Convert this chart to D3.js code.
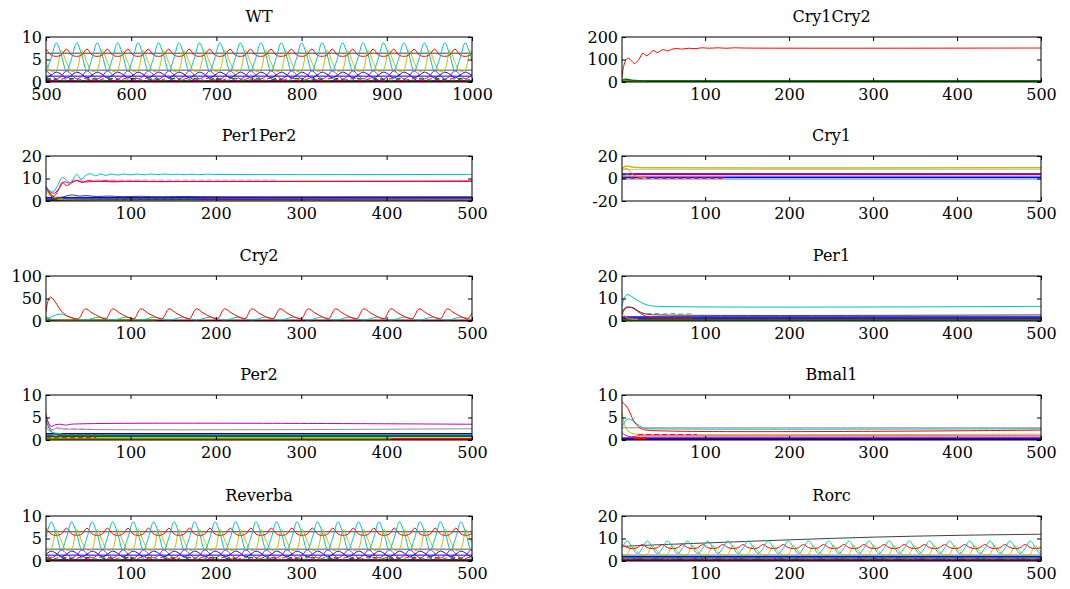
<!DOCTYPE html>
<html>
<head>
<meta charset="utf-8">
<title>Clock gene knockouts</title>
<script src="https://cdn.jsdelivr.net/npm/d3@7"></script>
<style>
body { margin: 0; background: #fff; }
svg text { font-family: "DejaVu Serif", serif; font-size: 16px; fill: #000; }
</style>
</head>
<body>
<svg id="chart" width="1070" height="589"></svg>
<script>
// titles and ticks
const titles = ["WT", "Cry1Cry2", "Per1Per2", "Cry1", "Cry2", "Per1", "Per2", "Bmal1", "Reverba", "Rorc"];
const xTicksWT = [500, 600, 700, 800, 900, 1000];
const xTicks = [100, 200, 300, 400, 500];
const yTicks0_10 = [0, 5, 10];
const yTicks0_20 = [0, 10, 20];
const yTicksC1C2 = [0, 100, 200];
const yTicksCry1 = [-20, 0, 20];
const yTicksCry2 = [0, 50, 100];

// sampled time grids (every 6 time units)
const wtTime = d3.range(500, 1005, 6);
const koTime = d3.range(1, 506, 6);

// WT steady oscillation, sampled on wtTime
const wtCyan = [2.4,5.2,8.7,6.0,2.4,5.2,8.7,6.0,2.4,5.2,8.7,6.0,2.4,5.2,8.7,6.0,2.4,5.2,8.7,6.0,2.4,5.2,8.7,6.0,2.4,5.2,8.7,6.0,
  2.4,5.2,8.7,6.0,2.4,5.2,8.7,6.0,2.4,5.2,8.7,6.0,2.4,5.2,8.7,6.0,2.4,5.2,8.7,6.0,2.4,5.2,8.7,6.0,2.4,5.2,8.7,6.0,
  2.4,5.2,8.7,6.0,2.4,5.2,8.7,6.0,2.4,5.2,8.7,6.0,2.4,5.2,8.7,6.0,2.4,5.2,8.7,6.0,2.4,5.2,8.7,6.0,2.4,5.2,8.7,6.0,2.4];
const wtYellow = [4.4,2.4,2.7,7.0,4.4,2.4,2.7,7.0,4.4,2.4,2.7,7.0,4.4,2.4,2.7,7.0,4.4,2.4,2.7,7.0,4.4,2.4,2.7,7.0,4.4,2.4,2.7,7.0,
  4.4,2.4,2.7,7.0,4.4,2.4,2.7,7.0,4.4,2.4,2.7,7.0,4.4,2.4,2.7,7.0,4.4,2.4,2.7,7.0,4.4,2.4,2.7,7.0,4.4,2.4,2.7,7.0,
  4.4,2.4,2.7,7.0,4.4,2.4,2.7,7.0,4.4,2.4,2.7,7.0,4.4,2.4,2.7,7.0,4.4,2.4,2.7,7.0,4.4,2.4,2.7,7.0,4.4,2.4,2.7,7.0,4.4];
const wtRed = [7.3,6.0,5.7,6.0,7.3,6.0,5.7,6.0,7.3,6.0,5.7,6.0,7.3,6.0,5.7,6.0,7.3,6.0,5.7,6.0,7.3,6.0,5.7,6.0,7.3,6.0,5.7,6.0,
  7.3,6.0,5.7,6.0,7.3,6.0,5.7,6.0,7.3,6.0,5.7,6.0,7.3,6.0,5.7,6.0,7.3,6.0,5.7,6.0,7.3,6.0,5.7,6.0,7.3,6.0,5.7,6.0,
  7.3,6.0,5.7,6.0,7.3,6.0,5.7,6.0,7.3,6.0,5.7,6.0,7.3,6.0,5.7,6.0,7.3,6.0,5.7,6.0,7.3,6.0,5.7,6.0,7.3,6.0,5.7,6.0,7.3];
const wtMagenta = [2.5,1.6,0.7,1.3,2.5,1.6,0.7,1.3,2.5,1.6,0.7,1.3,2.5,1.6,0.7,1.3,2.5,1.6,0.7,1.3,2.5,1.6,0.7,1.3,2.5,1.6,0.7,1.3,
  2.5,1.6,0.7,1.3,2.5,1.6,0.7,1.3,2.5,1.6,0.7,1.3,2.5,1.6,0.7,1.3,2.5,1.6,0.7,1.3,2.5,1.6,0.7,1.3,2.5,1.6,0.7,1.3,
  2.5,1.6,0.7,1.3,2.5,1.6,0.7,1.3,2.5,1.6,0.7,1.3,2.5,1.6,0.7,1.3,2.5,1.6,0.7,1.3,2.5,1.6,0.7,1.3,2.5,1.6,0.7,1.3,2.5];
const wtBlue = [0.9,1.5,2.2,1.7,0.9,1.5,2.2,1.7,0.9,1.5,2.2,1.7,0.9,1.5,2.2,1.7,0.9,1.5,2.2,1.7,0.9,1.5,2.2,1.7,0.9,1.5,2.2,1.7,
  0.9,1.5,2.2,1.7,0.9,1.5,2.2,1.7,0.9,1.5,2.2,1.7,0.9,1.5,2.2,1.7,0.9,1.5,2.2,1.7,0.9,1.5,2.2,1.7,0.9,1.5,2.2,1.7,
  0.9,1.5,2.2,1.7,0.9,1.5,2.2,1.7,0.9,1.5,2.2,1.7,0.9,1.5,2.2,1.7,0.9,1.5,2.2,1.7,0.9,1.5,2.2,1.7,0.9,1.5,2.2,1.7,0.9];
const wtGreenDash = [0.4,0.8,0.5,0.3,0.4,0.8,0.5,0.3,0.4,0.8,0.5,0.3,0.4,0.8,0.5,0.3,0.4,0.8,0.5,0.3,0.4,0.8,0.5,0.3,0.4,0.8,0.5,0.3,
  0.4,0.8,0.5,0.3,0.4,0.8,0.5,0.3,0.4,0.8,0.5,0.3,0.4,0.8,0.5,0.3,0.4,0.8,0.5,0.3,0.4,0.8,0.5,0.3,0.4,0.8,0.5,0.3,
  0.4,0.8,0.5,0.3,0.4,0.8,0.5,0.3,0.4,0.8,0.5,0.3,0.4,0.8,0.5,0.3,0.4,0.8,0.5,0.3,0.4,0.8,0.5,0.3,0.4,0.8,0.5,0.3,0.4];
const wtRedDash = [0.9,0.5,0.2,0.6,0.9,0.5,0.2,0.6,0.9,0.5,0.2,0.6,0.9,0.5,0.2,0.6,0.9,0.5,0.2,0.6,0.9,0.5,0.2,0.6,0.9,0.5,0.2,0.6,
  0.9,0.5,0.2,0.6,0.9,0.5,0.2,0.6,0.9,0.5,0.2,0.6,0.9,0.5,0.2,0.6,0.9,0.5,0.2,0.6,0.9,0.5,0.2,0.6,0.9,0.5,0.2,0.6,
  0.9,0.5,0.2,0.6,0.9,0.5,0.2,0.6,0.9,0.5,0.2,0.6,0.9,0.5,0.2,0.6,0.9,0.5,0.2,0.6,0.9,0.5,0.2,0.6,0.9,0.5,0.2,0.6,0.9];
const wtLevels = [6.4, 2.6, 1.3, 0.3, 0.1];

// Reverba knockout, sampled on koTime
const revCyan = [5.2,8.7,6.0,2.4,5.2,8.7,6.0,2.4,5.2,8.7,6.0,2.4,5.2,8.7,6.0,2.4,5.2,8.7,6.0,2.4,5.2,8.7,6.0,2.4,5.2,8.7,6.0,2.4,
  5.2,8.7,6.0,2.4,5.2,8.7,6.0,2.4,5.2,8.7,6.0,2.4,5.2,8.7,6.0,2.4,5.2,8.7,6.0,2.4,5.2,8.7,6.0,2.4,5.2,8.7,6.0,2.4,
  5.2,8.7,6.0,2.4,5.2,8.7,6.0,2.4,5.2,8.7,6.0,2.4,5.2,8.7,6.0,2.4,5.2,8.7,6.0,2.4,5.2,8.7,6.0,2.4,5.2,8.7,6.0,2.4,5.2];
const revYellow = [2.4,2.7,7.0,4.4,2.4,2.7,7.0,4.4,2.4,2.7,7.0,4.4,2.4,2.7,7.0,4.4,2.4,2.7,7.0,4.4,2.4,2.7,7.0,4.4,2.4,2.7,7.0,4.4,
  2.4,2.7,7.0,4.4,2.4,2.7,7.0,4.4,2.4,2.7,7.0,4.4,2.4,2.7,7.0,4.4,2.4,2.7,7.0,4.4,2.4,2.7,7.0,4.4,2.4,2.7,7.0,4.4,
  2.4,2.7,7.0,4.4,2.4,2.7,7.0,4.4,2.4,2.7,7.0,4.4,2.4,2.7,7.0,4.4,2.4,2.7,7.0,4.4,2.4,2.7,7.0,4.4,2.4,2.7,7.0,4.4,2.4];
const revRed = [7.3,6.0,5.7,6.0,7.3,6.0,5.7,6.0,7.3,6.0,5.7,6.0,7.3,6.0,5.7,6.0,7.3,6.0,5.7,6.0,7.3,6.0,5.7,6.0,7.3,6.0,5.7,6.0,
  7.3,6.0,5.7,6.0,7.3,6.0,5.7,6.0,7.3,6.0,5.7,6.0,7.3,6.0,5.7,6.0,7.3,6.0,5.7,6.0,7.3,6.0,5.7,6.0,7.3,6.0,5.7,6.0,
  7.3,6.0,5.7,6.0,7.3,6.0,5.7,6.0,7.3,6.0,5.7,6.0,7.3,6.0,5.7,6.0,7.3,6.0,5.7,6.0,7.3,6.0,5.7,6.0,7.3,6.0,5.7,6.0,7.3];
const revMagenta = [1.6,0.7,1.3,2.5,1.6,0.7,1.3,2.5,1.6,0.7,1.3,2.5,1.6,0.7,1.3,2.5,1.6,0.7,1.3,2.5,1.6,0.7,1.3,2.5,1.6,0.7,1.3,2.5,
  1.6,0.7,1.3,2.5,1.6,0.7,1.3,2.5,1.6,0.7,1.3,2.5,1.6,0.7,1.3,2.5,1.6,0.7,1.3,2.5,1.6,0.7,1.3,2.5,1.6,0.7,1.3,2.5,
  1.6,0.7,1.3,2.5,1.6,0.7,1.3,2.5,1.6,0.7,1.3,2.5,1.6,0.7,1.3,2.5,1.6,0.7,1.3,2.5,1.6,0.7,1.3,2.5,1.6,0.7,1.3,2.5,1.6];
const revBlue = [1.5,2.2,1.7,0.9,1.5,2.2,1.7,0.9,1.5,2.2,1.7,0.9,1.5,2.2,1.7,0.9,1.5,2.2,1.7,0.9,1.5,2.2,1.7,0.9,1.5,2.2,1.7,0.9,
  1.5,2.2,1.7,0.9,1.5,2.2,1.7,0.9,1.5,2.2,1.7,0.9,1.5,2.2,1.7,0.9,1.5,2.2,1.7,0.9,1.5,2.2,1.7,0.9,1.5,2.2,1.7,0.9,
  1.5,2.2,1.7,0.9,1.5,2.2,1.7,0.9,1.5,2.2,1.7,0.9,1.5,2.2,1.7,0.9,1.5,2.2,1.7,0.9,1.5,2.2,1.7,0.9,1.5,2.2,1.7,0.9,1.5];
const revGreenDash = [0.8,0.5,0.3,0.4,0.8,0.5,0.3,0.4,0.8,0.5,0.3,0.4,0.8,0.5,0.3,0.4,0.8,0.5,0.3,0.4,0.8,0.5,0.3,0.4,0.8,0.5,0.3,0.4,
  0.8,0.5,0.3,0.4,0.8,0.5,0.3,0.4,0.8,0.5,0.3,0.4,0.8,0.5,0.3,0.4,0.8,0.5,0.3,0.4,0.8,0.5,0.3,0.4,0.8,0.5,0.3,0.4,
  0.8,0.5,0.3,0.4,0.8,0.5,0.3,0.4,0.8,0.5,0.3,0.4,0.8,0.5,0.3,0.4,0.8,0.5,0.3,0.4,0.8,0.5,0.3,0.4,0.8,0.5,0.3,0.4,0.8];
const revRedDash = [0.5,0.2,0.6,0.9,0.5,0.2,0.6,0.9,0.5,0.2,0.6,0.9,0.5,0.2,0.6,0.9,0.5,0.2,0.6,0.9,0.5,0.2,0.6,0.9,0.5,0.2,0.6,0.9,
  0.5,0.2,0.6,0.9,0.5,0.2,0.6,0.9,0.5,0.2,0.6,0.9,0.5,0.2,0.6,0.9,0.5,0.2,0.6,0.9,0.5,0.2,0.6,0.9,0.5,0.2,0.6,0.9,
  0.5,0.2,0.6,0.9,0.5,0.2,0.6,0.9,0.5,0.2,0.6,0.9,0.5,0.2,0.6,0.9,0.5,0.2,0.6,0.9,0.5,0.2,0.6,0.9,0.5,0.2,0.6,0.9,0.5];
const revLevels = [6.5, 2.6, 1.3, 0.3, 0.1];

// Rorc knockout, sampled on koTime
const rorcCyan = [5.6,8.9,6.2,3.3,5.6,8.9,6.2,3.3,5.6,8.9,6.2,3.3,5.6,8.9,6.2,3.3,5.6,8.9,6.2,3.3,5.6,8.9,6.2,3.3,5.6,8.9,6.2,3.3,
  5.6,8.9,6.2,3.3,5.6,8.9,6.2,3.3,5.6,8.9,6.2,3.3,5.6,8.9,6.2,3.3,5.6,8.9,6.2,3.3,5.6,8.9,6.2,3.3,5.6,8.9,6.2,3.3,
  5.6,8.9,6.2,3.3,5.6,8.9,6.2,3.3,5.6,8.9,6.2,3.3,5.6,8.9,6.2,3.3,5.6,8.9,6.2,3.3,5.6,8.9,6.2,3.3,5.6,8.9,6.2,3.3,5.6];
const rorcYellow = [2.6,3.0,6.8,4.3,2.6,3.0,6.8,4.3,2.6,3.0,6.8,4.3,2.6,3.0,6.8,4.3,2.6,3.0,6.8,4.3,2.6,3.0,6.8,4.3,2.6,3.0,6.8,4.3,
  2.6,3.0,6.8,4.3,2.6,3.0,6.8,4.3,2.6,3.0,6.8,4.3,2.6,3.0,6.8,4.3,2.6,3.0,6.8,4.3,2.6,3.0,6.8,4.3,2.6,3.0,6.8,4.3,
  2.6,3.0,6.8,4.3,2.6,3.0,6.8,4.3,2.6,3.0,6.8,4.3,2.6,3.0,6.8,4.3,2.6,3.0,6.8,4.3,2.6,3.0,6.8,4.3,2.6,3.0,6.8,4.3,2.6];
const rorcRed = [7.3,6.0,5.5,5.9,7.3,6.0,5.5,5.9,7.3,6.0,5.5,5.9,7.3,6.0,5.5,5.9,7.3,6.0,5.5,5.9,7.3,6.0,5.5,5.9,7.3,6.0,5.5,5.9,
  7.3,6.0,5.5,5.9,7.3,6.0,5.5,5.9,7.3,6.0,5.5,5.9,7.3,6.0,5.5,5.9,7.3,6.0,5.5,5.9,7.3,6.0,5.5,5.9,7.3,6.0,5.5,5.9,
  7.3,6.0,5.5,5.9,7.3,6.0,5.5,5.9,7.3,6.0,5.5,5.9,7.3,6.0,5.5,5.9,7.3,6.0,5.5,5.9,7.3,6.0,5.5,5.9,7.3,6.0,5.5,5.9,7.3];
const rorcMagentaDash = [1.0,0.5,0.8,1.4,1.0,0.5,0.8,1.4,1.0,0.5,0.8,1.4,1.0,0.5,0.8,1.4,1.0,0.5,0.8,1.4,1.0,0.5,0.8,1.4,1.0,0.5,0.8,1.4,
  1.0,0.5,0.8,1.4,1.0,0.5,0.8,1.4,1.0,0.5,0.8,1.4,1.0,0.5,0.8,1.4,1.0,0.5,0.8,1.4,1.0,0.5,0.8,1.4,1.0,0.5,0.8,1.4,
  1.0,0.5,0.8,1.4,1.0,0.5,0.8,1.4,1.0,0.5,0.8,1.4,1.0,0.5,0.8,1.4,1.0,0.5,0.8,1.4,1.0,0.5,0.8,1.4,1.0,0.5,0.8,1.4,1.0];
const rorcBlack = [[1,6.5],[50,7.3],[100,8.0],[200,9.4],[300,10.6],[400,11.4],[500,11.9]];
const rorcLevels = [2.7, 2.0, 1.3, 0.6, 0.2];

// Cry1Cry2 knockout
const c1c2Red = [[1,20],[3,70],[6,100],[9,105],[12,95],[16,82],[21,100],[26,128],[30,117],[34,125],[38,140],[43,131],
  [50,144],[55,138],[60,145],[66,149],[72,146],[80,150],[88,148],[96,152],[105,150],[115,152],[125,150],[135,152],[145,151],[500,151]];
const c1c2Olive = [[1,12],[5,8],[10,4],[20,2],[30,1]];
const c1c2DarkGreen = [[1,10],[6,12],[12,8],[20,6],[30,5],[500,5]];
const c1c2Levels = [3, 1.5, 0.5];

// Per1Per2 knockout
const p12Cyan = [[1,5.4],[5,4.8],[9,4.0],[14,6.5],[20,10.4],[25,9.2],[30,8.3],[37,11.9],[42,9.6],[47,11.2],[53,12.1],[59,11.2],
  [65,12.0],[71,11.4],[78,12.0],[85,11.5],[92,12.0],[100,11.6],[108,12.0],[116,11.6],[124,12.0],[132,11.7],[140,12.0],
  [148,11.7],[156,11.9],[164,11.7],[172,11.9],[180,11.7],[190,11.9],[200,11.8],[500,11.8]];
const p12Red = [[1,5.4],[5,3.5],[10,2.1],[15,4.5],[20,8.3],[25,6.9],[31,8.0],[37,9.2],[43,8.3],[50,9.0],[60,8.7],[70,9.0],[80,8.8],[500,8.9]];
const p12Magenta = [[1,6.5],[6,4.0],[11,3.5],[17,6.0],[22,8.5],[28,8.0],[35,9.0],[45,8.4],[60,8.8],[80,8.5],[100,8.8],[130,8.6],[170,8.7],[500,8.7]];
const p12PinkDash = [[30,9.3],[270,9.3]];
const p12Black = [[1,6.5],[5,3.5],[10,1.2],[18,1.5],[25,2.3],[32,2.7],[40,2.2],[48,2.4],[60,2.0],[75,2.2],[90,1.9],[110,2.1],[130,1.9],[160,2.0],[200,1.9],[500,1.9]];
const p12Yellow = [[1,6.0],[5,4.0],[10,2.0],[15,0.8],[25,0.5],[500,0.5]];
const p12Orange = [[1,4.0],[6,2.5],[12,1.5],[20,1.0]];
const p12GreenDash = [[1,0.4],[180,0.4]];
const p12Levels = [1.6, 1.3, 0.6, 0.2];

// Cry1 knockout
const cry1Yellow = [[1,8.5],[4,10.5],[8,11.0],[13,10.2],[20,9.8],[30,9.5],[500,9.5]];
const cry1Orange = [[1,7.0],[4,8.5],[8,8.5],[11,6.0],[15,3.0],[20,1.5],[30,0.8]];
const cry1Cyan = [[1,3.0],[5,2.0],[7,4.0],[9,3.0],[12,1.0]];
const cry1RedDash = [[1,0.5],[125,0.5]];
const cry1Levels = [8.0, 4.2, 3.6, 1.1, -0.4];

// Cry2 knockout
const cry2Red = [[1,20],[3,42],[6,53],[10,47],[14,36],[19,22],[25,12],[31,7],[39,5],[47,27],[55,18],[63,10],
  [71,5],[79,27],[87,18],[95,10],[104,5],[112,27],[120,18],[128,10],[137,5],[145,27],[153,18],[161,10],
  [169,5],[177,27],[185,18],[193,10],[202,5],[210,27],[218,18],[226,10],[234,5],[242,27],[250,18],[258,10],
  [267,5],[275,27],[283,18],[291,10],[300,5],[308,27],[316,18],[324,10],[332,5],[340,27],[348,18],[356,10],
  [365,5],[373,27],[381,18],[389,10],[397,5],[405,27],[413,18],[421,10],[430,5],[438,27],[446,18],[454,10],
  [463,5],[471,27],[479,18],[487,10],[495,5],[500,18]];
const cry2Cyan = [[1,5],[6,8],[12,13],[18,15.5],[26,11],[34,6],[41,3],[47,2],[63,8.5],[79,2],[95,8.5],[112,2],[128,8.5],
  [145,2],[161,8.5],[177,2],[193,8.5],[210,2],[226,8.5],[242,2],[258,8.5],[275,2],[291,8.5],[308,2],[324,8.5],
  [340,2],[356,8.5],[373,2],[389,8.5],[405,2],[421,8.5],[438,2],[454,8.5],[471,2],[487,8.5],[500,3]];
const cry2Gray = [[1,8],[5,5],[10,3],[20,2],[30,1.5]];
const cry2DarkGreen = [[1,10],[4,4],[8,1],[15,0.5]];
const cry2Olive = [[1,1.5],[130,1.5]];
const cry2Levels = [1.0, 0.4];

// Per1 knockout
const per1Cyan = [[1,6.5],[4,10.5],[7,11.7],[12,11.0],[18,9.5],[25,8.0],[32,7.0],[40,6.6],[500,6.5]];
const per1Black = [[1,4.0],[5,6.0],[10,6.2],[15,5.8],[20,4.5],[26,3.5],[32,3.0],[45,2.7],[500,2.7]];
const per1GrayDash = [[30,3.2],[40,3.4],[50,3.1],[60,3.4],[70,3.1],[85,3.3]];
const per1Red = [[1,3.0],[5,5.5],[9,6.1],[14,5.7],[20,4.2],[26,2.8],[32,1.8],[40,1.4],[85,1.3]];
const per1Yellow = [[1,4.0],[5,2.0],[10,1.0],[20,0.8]];
const per1Magenta = [[1,1.5],[6,2.0],[12,1.2],[20,0.6]];
const per1Levels = [1.8, 1.2, 0.7, 0.4];

// Per2 knockout
const per2Magenta = [[1,5.5],[4,3.8],[7,3.0],[12,3.4],[18,3.5],[24,3.3],[30,3.5],[500,3.5]];
const per2Gray = [[1,6.0],[4,3.5],[8,2.2],[14,2.7],[20,2.5],[500,2.5]];
const per2PinkDash = [[1,4.0],[6,2.0],[12,2.6],[20,2.3],[30,2.5],[65,2.3]];
const per2Cyan = [[1,3.0],[5,2.0],[10,1.6],[20,1.4]];
const per2Black = [[1,4.5],[5,2.5],[10,1.5],[20,1.3]];
const per2YellowDash = [[1,1.5],[10,1.0],[20,1.3],[40,1.2],[70,1.2]];
const per2Olive = [[1,0.25],[405,0.25]];
const per2RedDash = [[1,0.5],[60,0.5]];
const per2Levels = [1.4, 1.0, 0.8, 0.2];

// Bmal1 knockout
const bmRed = [[1,8.4],[4,8.0],[8,7.0],[13,5.0],[18,3.4],[24,2.5],[30,2.2],[500,2.2]];
const bmCyan = [[1,2.8],[4,4.0],[8,4.7],[13,4.4],[20,3.4],[28,2.6],[35,2.5],[500,2.5]];
const bmYellow = [[1,6.2],[4,3.5],[8,2.0],[14,1.4],[20,1.3],[500,1.3]];
const bmRedDash = [[20,1.2],[90,1.2]];
const bmMagenta = [[1,1.6],[6,1.0],[12,0.7],[20,0.9],[30,0.9],[500,0.9]];
const bmRedThick = [[15,0.3],[30,0.3]];
const bmLevels = [2.7, 0.5, 0.3, 0.1];

// colours (old MATLAB order plus a few extras)
const col = {b: "#0000ff", g: "#008000", r: "#ff0000", c: "#00bfbf", m: "#bf00bf", y: "#bfbf00", k: "#404040",
  gr: "#8c8c8c", lg: "#c8c8c8", pk: "#ff80ff", dr: "#a00000", pu: "#7f007f", or: "#ff8c00", dg: "#006400", lb: "#6fa8ff", ol: "#8c8c00"};

const onGrid = (times, vals) => vals.map((v, i) => [times[i], v]).filter(p => p[0] !== undefined);
const flat = (dom, v) => [[dom[0], v], [dom[1], v]];
const D = "5,3";

const wtDom = [500, 1000], koDom = [1, 500];

const panels = [
  {title: titles[0], c: 0, r: 0, xDom: wtDom, xT: xTicksWT, yDom: [0, 10], yT: yTicks0_10, lines: [
    {d: flat(wtDom, wtLevels[4]), c: col.dr, w: 2}, {d: flat(wtDom, wtLevels[3]), c: col.pu, w: 1.5},
    {d: onGrid(wtTime, wtRedDash), c: col.r, dash: D}, {d: onGrid(wtTime, wtGreenDash), c: col.g, dash: D, w: 1.5},
    {d: flat(wtDom, wtLevels[2]), c: col.b}, {d: flat(wtDom, wtLevels[1]), c: col.gr, w: 1.5},
    {d: onGrid(wtTime, wtBlue), c: col.b}, {d: onGrid(wtTime, wtMagenta), c: col.m},
    {d: flat(wtDom, wtLevels[0]), c: col.k}, {d: onGrid(wtTime, wtYellow), c: col.y},
    {d: onGrid(wtTime, wtRed), c: col.r}, {d: onGrid(wtTime, wtCyan), c: col.c}]},
  {title: titles[1], c: 1, r: 0, xDom: koDom, xT: xTicks, yDom: [0, 200], yT: yTicksC1C2, lines: [
    {d: flat(koDom, c1c2Levels[2]), c: col.dr, w: 1.5}, {d: flat(koDom, c1c2Levels[1]), c: col.b},
    {d: flat(koDom, c1c2Levels[0]), c: col.g, w: 2}, {d: c1c2DarkGreen, c: col.dg, w: 1.5},
    {d: c1c2Olive, c: col.ol}, {d: c1c2Red, c: col.r}]},
  {title: titles[2], c: 0, r: 1, xDom: koDom, xT: xTicks, yDom: [0, 20], yT: yTicks0_20, lines: [
    {d: flat(koDom, p12Levels[3]), c: col.dr, w: 1.5}, {d: flat(koDom, p12Levels[2]), c: col.pu, w: 1.5},
    {d: p12GreenDash, c: col.g, dash: D, w: 1.5}, {d: flat(koDom, p12Levels[1]), c: col.b, w: 1.5},
    {d: flat(koDom, p12Levels[0]), c: col.b}, {d: p12Orange, c: col.or}, {d: p12Yellow, c: col.y},
    {d: p12Black, c: col.k}, {d: p12Magenta, c: col.m}, {d: p12PinkDash, c: col.pk, dash: D},
    {d: p12Red, c: col.r}, {d: p12Cyan, c: col.c}]},
  {title: titles[3], c: 1, r: 1, xDom: koDom, xT: xTicks, yDom: [-20, 20], yT: yTicksCry1, lines: [
    {d: flat(koDom, cry1Levels[4]), c: col.lb, w: 1.5}, {d: flat(koDom, cry1Levels[3]), c: col.b, w: 1.5},
    {d: cry1RedDash, c: col.r, dash: D, w: 1.5}, {d: flat(koDom, cry1Levels[2]), c: col.pu, w: 1.5},
    {d: flat(koDom, cry1Levels[1]), c: col.m, w: 1.5}, {d: flat(koDom, cry1Levels[0]), c: col.lg},
    {d: cry1Cyan, c: col.c}, {d: cry1Orange, c: col.or}, {d: cry1Yellow, c: col.y, w: 1.5}]},
  {title: titles[4], c: 0, r: 2, xDom: koDom, xT: xTicks, yDom: [0, 100], yT: yTicksCry2, lines: [
    {d: flat(koDom, cry2Levels[1]), c: col.g}, {d: flat(koDom, cry2Levels[0]), c: col.dr, w: 2},
    {d: cry2Olive, c: col.ol, w: 2.5}, {d: cry2DarkGreen, c: col.dg}, {d: cry2Gray, c: col.gr},
    {d: cry2Cyan, c: col.c}, {d: cry2Red, c: col.r}]},
  {title: titles[5], c: 1, r: 2, xDom: koDom, xT: xTicks, yDom: [0, 20], yT: yTicks0_20, lines: [
    {d: flat(koDom, per1Levels[3]), c: col.dg, w: 1.5}, {d: flat(koDom, per1Levels[2]), c: col.g, w: 2},
    {d: flat(koDom, per1Levels[1]), c: col.pu, w: 1.5}, {d: flat(koDom, per1Levels[0]), c: col.b, w: 1.5},
    {d: per1Magenta, c: col.m}, {d: per1Yellow, c: col.y}, {d: per1Red, c: col.r},
    {d: per1GrayDash, c: col.gr, dash: D}, {d: per1Black, c: col.k}, {d: per1Cyan, c: col.c}]},
  {title: titles[6], c: 0, r: 3, xDom: koDom, xT: xTicks, yDom: [0, 10], yT: yTicks0_10, lines: [
    {d: flat(koDom, per2Levels[3]), c: col.r, w: 2}, {d: per2Olive, c: col.ol, w: 2.5},
    {d: per2RedDash, c: col.r, dash: D}, {d: flat(koDom, per2Levels[2]), c: col.dg, w: 1.5},
    {d: flat(koDom, per2Levels[1]), c: col.g, w: 1.5}, {d: per2YellowDash, c: col.y, dash: D},
    {d: flat(koDom, per2Levels[0]), c: col.b, w: 1.5}, {d: per2Black, c: col.k}, {d: per2Cyan, c: col.c},
    {d: per2PinkDash, c: col.pk, dash: D}, {d: per2Gray, c: col.gr}, {d: per2Magenta, c: col.m}]},
  {title: titles[7], c: 1, r: 3, xDom: koDom, xT: xTicks, yDom: [0, 10], yT: yTicks0_10, lines: [
    {d: flat(koDom, bmLevels[3]), c: col.dr, w: 1.5}, {d: flat(koDom, bmLevels[2]), c: col.b, w: 1.5},
    {d: flat(koDom, bmLevels[1]), c: col.pu}, {d: bmRedThick, c: col.r, w: 2.5}, {d: bmMagenta, c: col.m},
    {d: bmYellow, c: col.y}, {d: bmRedDash, c: col.r, dash: D}, {d: flat(koDom, bmLevels[0]), c: col.gr},
    {d: bmCyan, c: col.c}, {d: bmRed, c: col.r}]},
  {title: titles[8], c: 0, r: 4, xDom: koDom, xT: xTicks, yDom: [0, 10], yT: yTicks0_10, lines: [
    {d: flat(koDom, revLevels[4]), c: col.dr, w: 2}, {d: flat(koDom, revLevels[3]), c: col.pu, w: 1.5},
    {d: onGrid(koTime, revRedDash), c: col.r, dash: D}, {d: onGrid(koTime, revGreenDash), c: col.g, dash: D, w: 1.5},
    {d: flat(koDom, revLevels[2]), c: col.b}, {d: flat(koDom, revLevels[1]), c: col.gr, w: 1.5},
    {d: onGrid(koTime, revBlue), c: col.b}, {d: onGrid(koTime, revMagenta), c: col.m},
    {d: flat(koDom, revLevels[0]), c: col.k}, {d: onGrid(koTime, revYellow), c: col.y},
    {d: onGrid(koTime, revRed), c: col.r}, {d: onGrid(koTime, revCyan), c: col.c}]},
  {title: titles[9], c: 1, r: 4, xDom: koDom, xT: xTicks, yDom: [0, 20], yT: yTicks0_20, lines: [
    {d: flat(koDom, rorcLevels[4]), c: col.dr, w: 2}, {d: flat(koDom, rorcLevels[3]), c: col.pu, w: 1.5},
    {d: onGrid(koTime, rorcMagentaDash), c: col.m, dash: D}, {d: flat(koDom, rorcLevels[2]), c: col.g, w: 1.5},
    {d: flat(koDom, rorcLevels[1]), c: col.b, w: 1.5}, {d: flat(koDom, rorcLevels[0]), c: col.gr},
    {d: rorcBlack, c: col.k}, {d: onGrid(koTime, rorcYellow), c: col.y},
    {d: onGrid(koTime, rorcRed), c: col.r}, {d: onGrid(koTime, rorcCyan), c: col.c}]}
];

// layout of the 5x2 grid
const colX = [[46, 472], [622, 1041]];
const rowBottom = [82, 201, 321, 440, 561];
const plotH = 45;
const fmt = d => String(d);

const svg = d3.select("#chart");

panels.forEach((p, idx) => {
  const x0 = colX[p.c][0], x1 = colX[p.c][1];
  const yb = rowBottom[p.r], yt = yb - plotH;
  const x = d3.scaleLinear().domain(p.xDom).range([x0, x1]);
  const y = d3.scaleLinear().domain(p.yDom).range([yb, yt]);

  const clipId = "clip" + idx;
  svg.append("clipPath").attr("id", clipId)
    .append("rect").attr("x", x0).attr("y", yt).attr("width", x1 - x0).attr("height", plotH);

  const line = d3.line().x(d => x(d[0])).y(d => y(d[1])).curve(d3.curveCatmullRom);
  const g = svg.append("g").attr("clip-path", `url(#${clipId})`);
  p.lines.forEach(s => {
    g.append("path")
      .attr("d", line(s.d))
      .attr("fill", "none")
      .attr("stroke", s.c)
      .attr("stroke-width", s.w || 1)
      .attr("stroke-dasharray", s.dash || null);
  });

  // axes, ticks pointing inwards on all four sides
  svg.append("g").attr("transform", `translate(0,${yb})`)
    .call(d3.axisBottom(x).tickValues(p.xT).tickFormat(fmt).tickSize(-4).tickSizeOuter(0).tickPadding(7));
  svg.append("g").attr("transform", `translate(0,${yt})`)
    .call(d3.axisTop(x).tickValues(p.xT).tickSize(-4).tickSizeOuter(0).tickFormat(""));
  svg.append("g").attr("transform", `translate(${x0},0)`)
    .call(d3.axisLeft(y).tickValues(p.yT).tickFormat(fmt).tickSize(-4).tickSizeOuter(0).tickPadding(4));
  svg.append("g").attr("transform", `translate(${x1},0)`)
    .call(d3.axisRight(y).tickValues(p.yT).tickSize(-4).tickSizeOuter(0).tickFormat(""));
  svg.selectAll(".domain").remove();
  svg.selectAll(".tick line").attr("stroke", "#000");

  svg.append("rect").attr("x", x0).attr("y", yt).attr("width", x1 - x0).attr("height", plotH)
    .attr("fill", "none").attr("stroke", "#000").attr("stroke-width", 1);

  svg.append("text").attr("x", (x0 + x1) / 2).attr("y", yt - 15)
    .attr("text-anchor", "middle").text(p.title);
});
</script>
</body>
</html>
